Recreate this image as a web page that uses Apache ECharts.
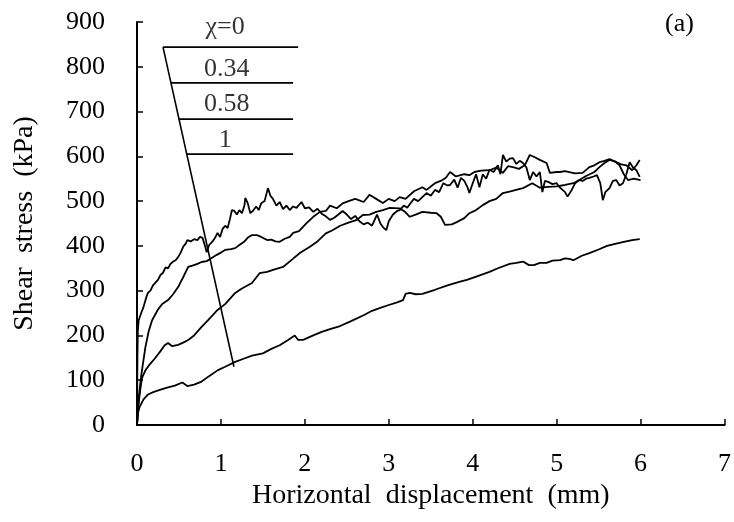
<!DOCTYPE html>
<html>
<head>
<meta charset="utf-8">
<script src="https://cdn.jsdelivr.net/npm/echarts@6/dist/echarts.min.js"></script>
<style>
html,body{margin:0;padding:0;background:#fff;}
#chart{width:734px;height:522px;}
</style>
</head>
<body>
<div id="chart"></div>
<script>
// x ticks / y ticks
var xTicks = [0,1,2,3,4,5,6,7];
var yTicks = [0,100,200,300,400,500,600,700,800,900];

// χ = 0
var chi0 = [[0,0],[0.005,150],[0.01,210],[0.02,234],[0.05,250],[0.08,265],[0.11,285],[0.13,295],[0.16,300],[0.19,312],[0.22,318],[0.25,324],[0.28,335],[0.31,340],[0.34,352],[0.37,350],[0.4,360],[0.43,365],[0.46,368],[0.49,375],[0.52,385],[0.55,398],[0.58,405],[0.6,413],[0.64,410],[0.68,415],[0.72,413],[0.75,420],[0.78,418],[0.81,400],[0.83,386],[0.86,402],[0.9,410],[0.93,418],[0.96,429],[0.99,420],[1.02,438],[1.05,445],[1.08,440],[1.11,462],[1.13,480],[1.16,478],[1.19,470],[1.22,480],[1.25,473],[1.28,490],[1.29,507],[1.32,495],[1.35,473],[1.38,478],[1.42,488],[1.45,480],[1.48,495],[1.52,500],[1.56,529],[1.59,512],[1.62,505],[1.66,490],[1.7,498],[1.74,482],[1.78,490],[1.82,480],[1.86,488],[1.9,485],[1.96,498],[2.0,484],[2.05,486],[2.1,476],[2.15,483],[2.2,472],[2.25,466],[2.3,458],[2.35,463],[2.4,470],[2.45,478],[2.5,470],[2.55,460],[2.6,467],[2.65,455],[2.7,448],[2.75,452],[2.8,445],[2.86,470],[2.9,450],[2.93,442],[2.97,435],[3.0,455],[3.05,470],[3.1,478],[3.13,480],[3.18,490],[3.22,485],[3.27,498],[3.3,505],[3.35,500],[3.4,509],[3.45,518],[3.5,512],[3.55,525],[3.6,520],[3.65,540],[3.7,535],[3.73,536],[3.78,548],[3.82,530],[3.86,552],[3.9,545],[3.94,530],[3.96,518],[4.0,540],[4.04,560],[4.08,531],[4.12,560],[4.16,550],[4.2,570],[4.25,565],[4.3,580],[4.33,560],[4.36,603],[4.4,588],[4.44,595],[4.48,596],[4.52,583],[4.56,590],[4.6,585],[4.64,575],[4.68,547],[4.72,565],[4.76,555],[4.8,565],[4.83,520],[4.86,545],[4.9,543],[4.95,538],[5.0,540],[5.04,530],[5.07,525],[5.1,520],[5.13,510],[5.15,509],[5.18,525],[5.22,540],[5.27,547],[5.31,545],[5.35,550],[5.39,552],[5.44,555],[5.48,558],[5.52,540],[5.55,502],[5.58,520],[5.63,529],[5.67,545],[5.71,547],[5.75,535],[5.79,540],[5.83,560],[5.87,587],[5.91,575],[5.95,569],[5.99,554]];

// χ = 0.34
var chi034 = [[0,0],[0.02,60],[0.05,110],[0.1,174],[0.14,210],[0.18,234],[0.25,258],[0.3,270],[0.37,279],[0.43,292],[0.49,308],[0.55,330],[0.61,353],[0.66,356],[0.72,360],[0.77,364],[0.83,366],[0.89,373],[0.95,380],[1.0,385],[1.05,391],[1.12,393],[1.17,395],[1.22,402],[1.28,410],[1.33,420],[1.37,424],[1.43,424],[1.48,420],[1.55,413],[1.6,414],[1.65,410],[1.7,409],[1.76,416],[1.82,420],[1.86,429],[1.93,433],[2.02,451],[2.1,465],[2.18,476],[2.25,478],[2.3,490],[2.38,484],[2.45,495],[2.52,500],[2.6,505],[2.7,498],[2.77,514],[2.85,505],[2.93,496],[3.0,505],[3.07,500],[3.13,509],[3.2,505],[3.3,522],[3.4,531],[3.45,525],[3.55,540],[3.62,545],[3.68,552],[3.73,565],[3.8,555],[3.9,560],[3.96,558],[4.02,565],[4.1,568],[4.2,569],[4.28,575],[4.36,563],[4.42,578],[4.48,576],[4.55,572],[4.62,580],[4.68,603],[4.74,598],[4.8,592],[4.88,585],[4.92,563],[5.0,565],[5.04,565],[5.1,567],[5.15,565],[5.22,562],[5.31,563],[5.39,576],[5.45,580],[5.51,587],[5.57,590],[5.63,594],[5.71,587],[5.77,582],[5.83,580],[5.9,569],[5.95,580],[5.99,592]];

// χ = 0.58
var chi058 = [[0,0],[0.02,50],[0.04,80],[0.06,105],[0.1,122],[0.15,135],[0.21,148],[0.28,165],[0.33,178],[0.37,183],[0.42,176],[0.49,179],[0.55,184],[0.61,190],[0.68,200],[0.77,219],[0.85,235],[0.96,257],[1.05,270],[1.17,295],[1.25,305],[1.37,317],[1.46,339],[1.55,342],[1.63,347],[1.74,353],[1.85,370],[1.94,384],[2.06,398],[2.15,410],[2.25,428],[2.33,435],[2.42,445],[2.52,452],[2.62,458],[2.69,469],[2.77,470],[2.85,476],[2.93,480],[3.01,485],[3.13,484],[3.2,475],[3.25,465],[3.32,470],[3.4,476],[3.5,474],[3.57,473],[3.62,465],[3.67,447],[3.75,448],[3.81,453],[3.9,462],[3.96,473],[4.04,480],[4.12,491],[4.2,500],[4.28,505],[4.36,518],[4.45,522],[4.55,527],[4.6,529],[4.71,540],[4.8,530],[4.9,532],[5.0,533],[5.1,536],[5.2,540],[5.27,547],[5.35,556],[5.45,565],[5.51,576],[5.57,585],[5.63,592],[5.7,588],[5.75,580],[5.8,560],[5.85,547],[5.92,550],[6.0,547]];

// χ = 1
var chi1 = [[0,0],[0.01,25],[0.03,40],[0.08,58],[0.13,68],[0.2,74],[0.3,80],[0.37,84],[0.45,88],[0.54,95],[0.6,87],[0.68,90],[0.77,97],[0.85,108],[0.96,122],[1.05,130],[1.17,141],[1.27,148],[1.37,155],[1.5,160],[1.6,170],[1.7,178],[1.8,190],[1.88,200],[1.92,190],[1.98,190],[2.1,200],[2.2,208],[2.3,214],[2.42,221],[2.55,232],[2.7,245],[2.8,255],[2.89,261],[3.0,268],[3.1,274],[3.17,279],[3.2,293],[3.25,295],[3.32,292],[3.4,293],[3.55,302],[3.7,312],[3.85,320],[3.93,324],[4.05,332],[4.2,342],[4.3,350],[4.44,360],[4.52,362],[4.6,365],[4.67,357],[4.73,357],[4.8,362],[4.88,362],[4.95,367],[5.04,368],[5.1,372],[5.15,371],[5.2,368],[5.3,378],[5.39,384],[5.5,392],[5.6,400],[5.71,405],[5.8,409],[5.9,413],[5.99,415]];

// annotation (legend-like) in data space
var slantLine = [[0.31,844],[1.155,130]];
var labelLines = [
  [[0.31,844],[1.92,844]],
  [[0.405,764],[1.86,764]],
  [[0.5,683],[1.86,683]],
  [[0.593,605],[1.86,605]]
];
var labelTexts = ['\u03c7=0','0.34','0.58','1'];
var labelPos = [[1.05,889],[1.07,795],[1.07,716],[1.05,637]];
var panelTag = '(a)';

var FONT = 'Liberation Serif';
var chart = echarts.init(document.getElementById('chart'), null, {renderer:'canvas'});

function lineSeries(d){
  return {type:'line', data:d, showSymbol:false, symbol:'none', smooth:false,
    lineStyle:{color:'#000', width:1.8}, silent:true, animation:false, z:3};
}
var series = [chi0, chi034, chi058, chi1].map(lineSeries);
series.push({type:'line', data:slantLine, showSymbol:false, symbol:'none',
  lineStyle:{color:'#000', width:1.6}, animation:false});
labelLines.forEach(function(l){
  series.push({type:'line', data:l, showSymbol:false, symbol:'none',
    lineStyle:{color:'#000', width:1.6}, animation:false});
});
series.push({type:'scatter', symbolSize:0, animation:false,
  data: labelTexts.map(function(t,i){return {name:t, value:labelPos[i]};}),
  label:{show:true, position:'inside', formatter:function(p){return p.name;},
    color:'#000', fontFamily:FONT, fontSize:26}});

chart.setOption({
  backgroundColor:'#fff',
  animation:false,
  title:{text:panelTag, left:660, top:6, textStyle:{fontFamily:FONT, fontSize:26, fontWeight:'normal', color:'#000'}},
  grid:{left:137, right:9, top:22, bottom:97, containLabel:false},
  xAxis:{type:'value', min:0, max:7, interval:1,
    name:'Horizontal  displacement  (mm)', nameLocation:'middle', nameGap:55,
    nameTextStyle:{fontFamily:FONT, fontSize:28, color:'#000'},
    axisLine:{show:true, onZero:false, lineStyle:{color:'#000', width:2}},
    axisTick:{show:true, inside:true, length:6, lineStyle:{color:'#000', width:1.5}},
    axisLabel:{fontFamily:FONT, fontSize:26, color:'#000', margin:26, formatter:function(v){return xTicks.indexOf(v)>=0?String(v):'';}},
    splitLine:{show:false}},
  yAxis:{type:'value', min:0, max:900, interval:100,
    name:'Shear  stress  (kPa)', nameLocation:'middle', nameGap:98,
    nameTextStyle:{fontFamily:FONT, fontSize:28, color:'#000'},
    axisLine:{show:true, onZero:false, lineStyle:{color:'#000', width:2}},
    axisTick:{show:true, inside:true, length:6, lineStyle:{color:'#000', width:1.5}},
    axisLabel:{fontFamily:FONT, fontSize:26, color:'#000', margin:32, formatter:function(v){return yTicks.indexOf(v)>=0?String(v):'';}},
    splitLine:{show:false}},
  series:series
});
</script>
</body>
</html>
